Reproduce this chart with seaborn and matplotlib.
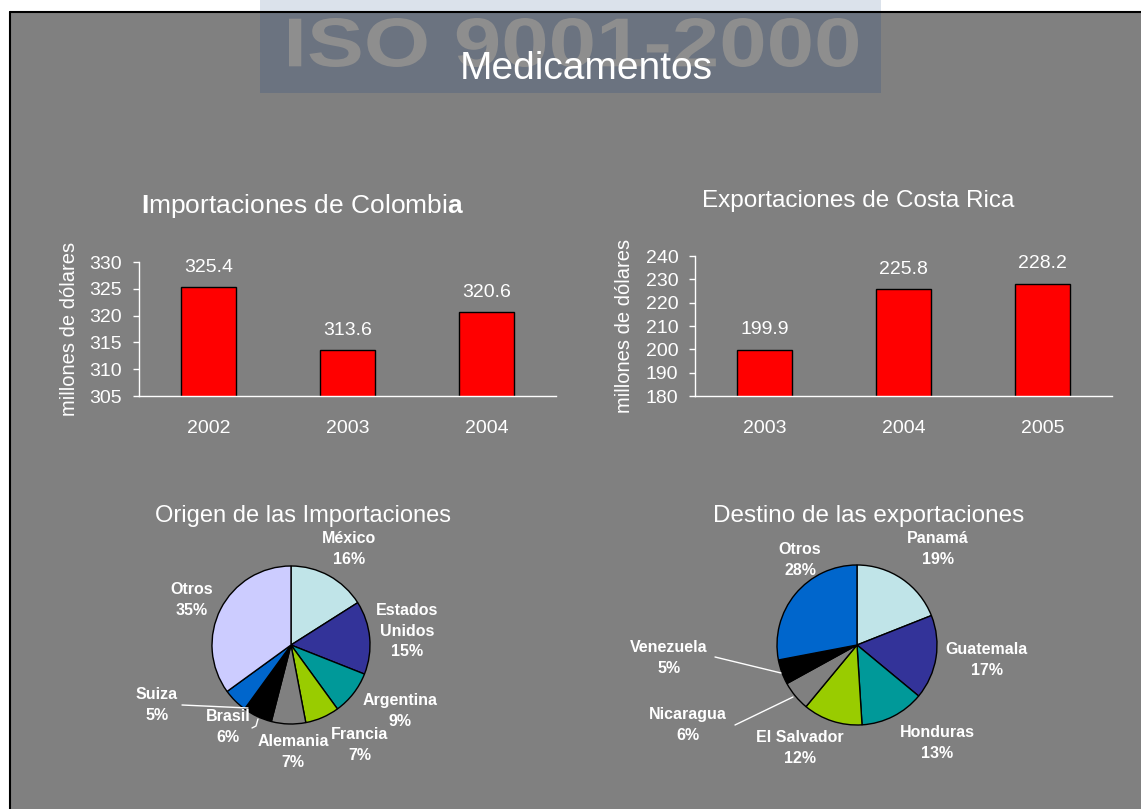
import matplotlib
matplotlib.use("Agg")
import matplotlib.pyplot as plt
import seaborn as sns
from matplotlib.patches import Rectangle, PathPatch
from matplotlib.textpath import TextPath
from matplotlib.font_manager import FontProperties
from matplotlib.transforms import Affine2D

sns.set_style("white")
plt.rcParams["font.family"] = ["Liberation Sans", "DejaVu Sans"]
plt.rcParams["mathtext.fontset"] = "custom"
plt.rcParams["mathtext.rm"] = "Liberation Sans"
plt.rcParams["mathtext.bf"] = "Liberation Sans:bold"

# --- data ---
imp_years = ["2002", "2003", "2004"]
imp_values = [325.4, 313.6, 320.6]
exp_years = ["2003", "2004", "2005"]
exp_values = [199.9, 225.8, 228.2]

orig_labels = ["México", "Estados\nUnidos", "Argentina", "Francia", "Alemania", "Brasil", "Suiza", "Otros"]
orig_pct = [16, 15, 9, 7, 7, 6, 5, 35]
dest_labels = ["Panamá", "Guatemala", "Honduras", "El Salvador", "Nicaragua", "Venezuela", "Otros"]
dest_pct = [19, 17, 13, 12, 6, 5, 28]

# --- style ---
BG = "#808080"
orig_colors = ["#c0e4e8", "#333399", "#009999", "#99cc00", "#808080", "#000000", "#0066cc", "#ccccff"]
dest_colors = ["#c0e4e8", "#333399", "#009999", "#99cc00", "#808080", "#000000", "#0066cc"]
# label offsets from pie centre, in pixels (x right, y down)
orig_offsets = [(58, -96), (116, -14), (109, 66), (69, 100), (2, 107), (-63, 82), (-134, 60), (-99, -45)]
dest_offsets = [(81, -96), (130, 15), (80, 98), (-57, 103), (-169, 80), (-188, 13), (-57, -85)]

W, H = 1141, 809
fig = plt.figure(figsize=(W / 100, H / 100), dpi=100, facecolor="white")

# background layer in pixel units (y measured from top via P())
bg = fig.add_axes([0, 0, 1, 1], zorder=0)


def P(x, y):
    return x, H - y


bg.add_patch(Rectangle(P(10, 809), W, 797, facecolor=BG, edgecolor="none", zorder=0))
bg.add_patch(Rectangle(P(260, 12), 621, 12, facecolor="#dbe2eb", edgecolor="none", zorder=0.5))
bg.add_patch(Rectangle(P(260, 93), 621, 81, facecolor="#6b7380", edgecolor="none", zorder=0.5))
bg.plot([10, W], [H - 12, H - 12], color="black", lw=1.5, zorder=3)
bg.plot([10, 10], [H - 12, 0], color="black", lw=1.5, zorder=3)

# "ISO 9001-2000" watermark, stretched to fit the banner
tp = TextPath((0, 0), "ISO 9001-2000", size=1,
              prop=FontProperties(family="Liberation Sans", weight="bold"))
ext = tp.get_extents()
x0, x1, y0, y1 = 289, 858, 67, 18
tr = (Affine2D().translate(-ext.x0, -ext.y0)
      .scale((x1 - x0) / ext.width, (y0 - y1) / ext.height)
      .translate(x0, H - y0))
bg.add_patch(PathPatch(tr.transform_path(tp), facecolor="#8e8e8e", edgecolor="none", zorder=1))
bg.text(*P(586, 79), "Medicamentos", color="white", fontsize=28, ha="center", va="baseline", zorder=2)

# titles
bg.text(*P(303, 213), r"$\mathbf{I}$mportaciones de Colombi$\mathbf{a}$", color="white",
        fontsize=19, ha="center", va="baseline")
bg.text(*P(858, 207), "Exportaciones de Costa Rica", color="white", fontsize=17.5,
        ha="center", va="baseline")
bg.text(*P(303, 522), "Origen de las Importaciones", color="white", fontsize=17,
        ha="center", va="baseline")
bg.text(*P(869, 522), "Destino de las exportaciones", color="white", fontsize=17.5,
        ha="center", va="baseline")

# pies
pies = [
    (orig_pct, orig_labels, orig_colors, orig_offsets, (291, 645), 79),
    (dest_pct, dest_labels, dest_colors, dest_offsets, (857, 645), 80),
]
for pct, labels, colors, offsets, (cx, cy), r in pies:
    bg.pie(pct, colors=colors, startangle=90, counterclock=False,
           center=P(cx, cy), radius=r,
           wedgeprops=dict(edgecolor="black", linewidth=1))
    for lab, p, (dx, dy) in zip(labels, pct, offsets):
        bg.text(*P(cx + dx, cy + dy), f"{lab}\n{p}%", color="white", fontsize=11.5,
                fontweight="bold", ha="center", va="center", linespacing=1.45)

# leader lines
for xs, ys in [([182, 248], [705, 708]), ([252, 256, 258], [728, 726, 719]),
               ([735, 793], [725, 697]), ([715, 781], [657, 673])]:
    bg.plot(xs, [H - y for y in ys], color="white", lw=1, zorder=3)

bg.set_xlim(0, W)
bg.set_ylim(0, H)
bg.set_aspect("auto")
bg.axis("off")

# bar charts
bar_specs = [
    (imp_years, imp_values, [139, 262, 417, 134], (305, 330), range(305, 331, 5)),
    (exp_years, exp_values, [695, 256, 417, 140], (180, 240), range(180, 241, 10)),
]
for years, vals, (left, top, w, h), ylim, yticks in bar_specs:
    ax = fig.add_axes([left / W, (H - top - h) / H, w / W, h / H], zorder=2)
    ax.set_facecolor("none")
    sns.barplot(x=years, y=vals, color="red", saturation=1, width=0.4,
                edgecolor="black", linewidth=1, ax=ax)
    ax.bar_label(ax.containers[0], fmt="%.1f", padding=8, color="white", fontsize=14)
    ax.set_ylim(*ylim)
    ax.set_yticks(list(yticks))
    ax.set_xlim(-0.5, 2.5)
    ax.set_xticks([-0.5, 0.5, 1.5, 2.5], minor=True)
    ax.tick_params(axis="x", which="major", length=0, pad=17, labelsize=14, labelcolor="white")
    ax.tick_params(axis="x", which="minor", length=6, width=1, color="white", direction="out")
    ax.tick_params(axis="y", length=4, width=1, color="white", direction="out", pad=8,
                   labelsize=14, labelcolor="white")
    ax.tick_params(left=True, bottom=True)
    ax.set_ylabel("millones de dólares", color="white", fontsize=14.5, labelpad=8)
    ax.set_xlabel("")
    for s in ["top", "right"]:
        ax.spines[s].set_visible(False)
    for s in ["left", "bottom"]:
        ax.spines[s].set_color("white")
        ax.spines[s].set_linewidth(1)

fig.savefig("out.png", dpi=100, facecolor="white")
